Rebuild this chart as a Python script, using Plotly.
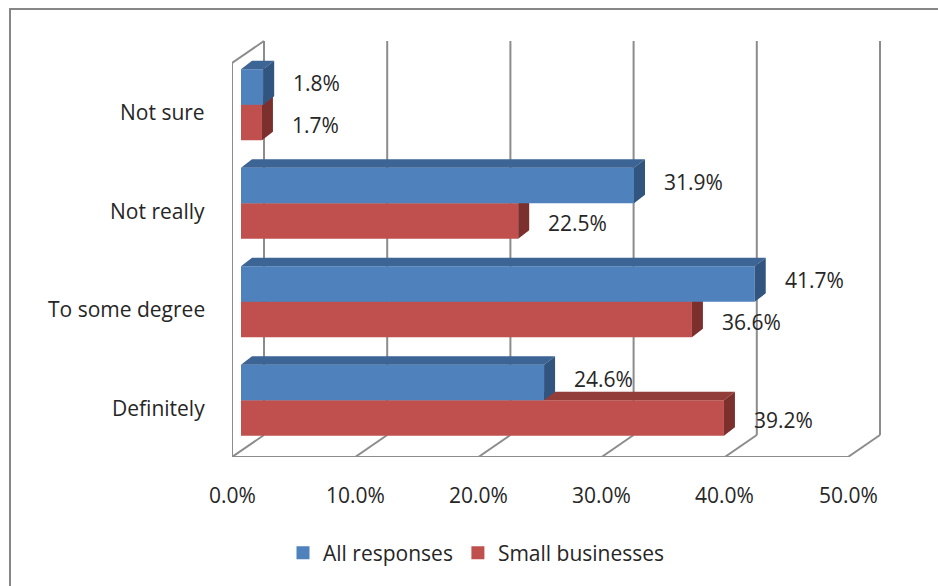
import plotly.graph_objects as go

# ---- data -------------------------------------------------------------
categories = ["Definitely", "To some degree", "Not really", "Not sure"]
all_responses = [24.6, 41.7, 31.9, 1.8]
small_businesses = [39.2, 36.6, 22.5, 1.7]
x_tick_values = [0, 10, 20, 30, 40, 50]
x_tick_labels = ["0.0%", "10.0%", "20.0%", "30.0%", "40.0%", "50.0%"]
series_names = ["All responses", "Small businesses"]

# ---- styling / geometry ------------------------------------------------
FIG_W, FIG_H = 938, 586
M_L, M_R, M_T, M_B = 232, 46, 38, 129
PX_X = 12.32   # pixels per percentage point
PX_Y = 98.5    # pixels per category band

plot_w = FIG_W - M_L - M_R
plot_h = FIG_H - M_T - M_B
x_range = [0, plot_w / PX_X]
y_range = [-0.5, -0.5 + plot_h / PX_Y]

# depth of the walls and of the bars, in axis units
WALL_DX, WALL_DY = 32 / PX_X, 22 / PX_Y
BAR_X0 = 9 / PX_X
BAR_DX, BAR_DY = 11 / PX_X, 8.5 / PX_Y
BAR_H = 35.5 / PX_Y
SEAM = 7.4 / PX_Y

BLUE = {"front": "#4F81BD", "top": "#3C6494", "side": "#32557F"}
RED = {"front": "#C0504D", "top": "#933D3B", "side": "#7C302E"}
GRID = "#8C8C8C"
TEXT = "#262626"
FONT = "Open Sans"


def bar_faces(values, lo, hi):
    """Polygons for the front, top and right faces of each bar."""
    faces = {"front": ([], []), "top": ([], []), "side": ([], [])}
    for c, v in enumerate(values):
        x0, x1 = BAR_X0, BAR_X0 + v
        y0, y1 = c + lo, c + hi
        polys = {
            "front": [(x0, y0), (x1, y0), (x1, y1), (x0, y1), (x0, y0)],
            "top": [(x0, y1), (x1, y1), (x1 + BAR_DX, y1 + BAR_DY),
                    (x0 + BAR_DX, y1 + BAR_DY), (x0, y1)],
            "side": [(x1, y0), (x1 + BAR_DX, y0 + BAR_DY),
                     (x1 + BAR_DX, y1 + BAR_DY), (x1, y1), (x1, y0)],
        }
        for k, pts in polys.items():
            xs, ys = faces[k]
            xs += [p[0] for p in pts] + [None]
            ys += [p[1] for p in pts] + [None]
    return faces


fig = go.Figure()

# small businesses sit below the seam, all responses above; draw lower first
for vals, lo, hi, colors in [
    (small_businesses, SEAM - BAR_H, SEAM, RED),
    (all_responses, SEAM, SEAM + BAR_H, BLUE),
]:
    faces = bar_faces(vals, lo, hi)
    for k in ["front", "top", "side"]:
        xs, ys = faces[k]
        fig.add_trace(go.Scatter(
            x=xs, y=ys, mode="none", fill="toself",
            fillcolor=colors[k], hoverinfo="skip", showlegend=False,
        ))

# legend entries
for name, col in zip(series_names, [BLUE["front"], RED["front"]]):
    fig.add_trace(go.Scatter(
        x=[None], y=[None], mode="markers", name=name,
        marker=dict(symbol="square", size=13, color=col),
    ))

shapes = []
n = len(categories)
y_bot, y_top = -0.5, n - 0.5


def line(x0, y0, x1, y1):
    shapes.append(dict(type="line", xref="x", yref="y", x0=x0, y0=y0,
                       x1=x1, y1=y1, layer="below",
                       line=dict(color=GRID, width=2)))


# back wall gridlines and floor diagonals
for v in x_tick_values:
    line(v + WALL_DX, y_bot + WALL_DY, v + WALL_DX, y_top + WALL_DY)
    line(v, y_bot, v + WALL_DX, y_bot + WALL_DY)
    # tick marks below the front axis
    shapes.append(dict(type="line", xref="x", yref="y", ysizemode="pixel",
                       yanchor=y_bot, x0=v, x1=v, y0=0, y1=-6, layer="below",
                       line=dict(color=GRID, width=2)))
# front axes and side wall edge
line(x_tick_values[0], y_bot, x_tick_values[-1], y_bot)
line(0, y_bot, 0, y_top)
line(0, y_top, WALL_DX, y_top + WALL_DY)
# category separator ticks on the vertical axis
for i in range(n + 1):
    yy = -0.5 + i
    shapes.append(dict(type="line", xref="x", yref="y", xsizemode="pixel",
                       xanchor=0, x0=-6, x1=0, y0=yy, y1=yy, layer="below",
                       line=dict(color=GRID, width=2)))

# outer chart frame (left and top edges show)
def px_to_paper_x(px):
    return (px - M_L) / plot_w


def px_to_paper_y(py):
    return (FIG_H - M_B - py) / plot_h


shapes.append(dict(type="rect", xref="paper", yref="paper",
                   x0=px_to_paper_x(10), x1=px_to_paper_x(FIG_W + 10),
                   y0=px_to_paper_y(FIG_H + 10), y1=px_to_paper_y(9),
                   line=dict(color="#878787", width=2), layer="below"))

annotations = []
# category labels
for c, name in enumerate(categories):
    annotations.append(dict(x=0, y=c, xref="x", yref="y", text=name,
                            showarrow=False, xanchor="right", xshift=-25,
                            font=dict(family=FONT, size=21, color=TEXT)))
# value axis labels
for v, t in zip(x_tick_values, x_tick_labels):
    annotations.append(dict(x=v, y=y_bot, xref="x", yref="y", text=t,
                            showarrow=False, yanchor="middle", yshift=-38,
                            font=dict(family=FONT, size=21, color=TEXT)))
# data labels
for vals, yc, ys in [
    (all_responses, SEAM + BAR_H / 2, 4),
    (small_businesses, SEAM - BAR_H / 2, -2),
]:
    for c, v in enumerate(vals):
        annotations.append(dict(x=BAR_X0 + v, y=c + yc, xref="x", yref="y",
                                text=f"{v:.1f}%", showarrow=False,
                                xanchor="left", xshift=28, yshift=ys,
                                font=dict(family=FONT, size=21, color=TEXT)))

fig.update_layout(
    template="none",
    width=FIG_W, height=FIG_H,
    margin=dict(l=M_L, r=M_R, t=M_T, b=M_B, pad=0),
    paper_bgcolor="white", plot_bgcolor="white",
    font=dict(family=FONT, size=21, color=TEXT),
    xaxis=dict(range=x_range, visible=False, fixedrange=True,
               automargin=False),
    yaxis=dict(range=y_range, visible=False, fixedrange=True,
               automargin=False),
    shapes=shapes,
    annotations=annotations,
    showlegend=True,
    legend=dict(orientation="h", xref="container", yref="container",
                x=0.508, xanchor="center", y=1 - 553 / FIG_H,
                yanchor="middle", font=dict(family=FONT, size=21, color=TEXT),
                itemwidth=30, tracegroupgap=0, bgcolor="rgba(0,0,0,0)"),
)

fig.write_html("out.html")
